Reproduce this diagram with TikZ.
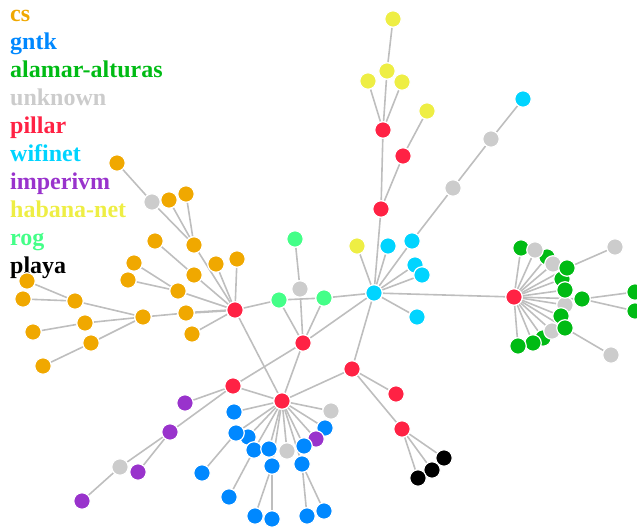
\documentclass[tikz,border=0pt]{standalone}
\usepackage{fontspec}
\setmainfont{Liberation Serif}
\usetikzlibrary{backgrounds}
\definecolor{cscol}{RGB}{240,168,0}
\definecolor{gntkcol}{RGB}{0,136,255}
\definecolor{alacol}{RGB}{0,187,20}
\definecolor{unkcol}{RGB}{204,204,204}
\definecolor{pilcol}{RGB}{255,34,68}
\definecolor{wificol}{RGB}{0,212,255}
\definecolor{impcol}{RGB}{153,51,204}
\definecolor{habcol}{RGB}{238,238,68}
\definecolor{rogcol}{RGB}{68,255,136}
\definecolor{playcol}{RGB}{0,0,0}
\definecolor{edgecol}{RGB}{190,190,190}
\tikzset{
  nd/.style={circle,inner sep=0pt,minimum size=16.5pt,draw=white,line width=1.2pt},
  cs/.style={nd,fill=cscol},
  gn/.style={nd,fill=gntkcol},
  al/.style={nd,fill=alacol},
  un/.style={nd,fill=unkcol},
  pi/.style={nd,fill=pilcol},
  wi/.style={nd,fill=wificol},
  im/.style={nd,fill=impcol},
  ha/.style={nd,fill=habcol},
  ro/.style={nd,fill=rogcol},
  pl/.style={nd,fill=playcol},
  edge/.style={draw=edgecol,line width=1.6pt},
  leg/.style={anchor=base west,inner sep=0pt,font=\bfseries\fontsize{24}{28}\selectfont}
}
\begin{document}
\begin{tikzpicture}[x=1pt,y=-1pt]
\useasboundingbox (0,0) rectangle (637,529);
% legend
\node[leg,text=cscol] (l1) at (10,22) {cs};
\node[leg,text=gntkcol] (l2) at (10,50) {gntk};
\node[leg,text=alacol] (l3) at (10,78) {alamar-alturas};
\node[leg,text=unkcol] (l4) at (10,106) {unknown};
\node[leg,text=pilcol] (l5) at (10,134) {pillar};
\node[leg,text=wificol] (l6) at (10,162) {wifinet};
\node[leg,text=impcol] (l7) at (10,190) {imperivm};
\node[leg,text=habcol] (l8) at (10,218) {habana-net};
\node[leg,text=rogcol] (l9) at (10,246) {rog};
\node[leg,text=playcol] (l10) at (10,274) {playa};
% cs cluster
\node[cs] (o1) at (117,163) {};
\node[un] (g1) at (152,202) {};
\node[cs] (o2) at (169,200) {};
\node[cs] (o3) at (186,194) {};
\node[cs] (o4) at (194,245) {};
\node[cs] (o5) at (155,241) {};
\node[cs] (o6) at (134,263) {};
\node[cs] (o7) at (128,280) {};
\node[cs] (o8) at (194,275) {};
\node[cs] (o9) at (216,264) {};
\node[cs] (o10) at (237,259) {};
\node[cs] (o11) at (178,291) {};
\node[cs] (o12) at (27,281) {};
\node[cs] (o13) at (23,299) {};
\node[cs] (o14) at (75,301) {};
\node[cs] (o15) at (143,317) {};
\node[cs] (o16) at (186,313) {};
\node[cs] (o17) at (85,323) {};
\node[cs] (o18) at (33,332) {};
\node[cs] (o19) at (91,343) {};
\node[cs] (o20) at (192,334) {};
\node[cs] (o21) at (43,366) {};
% pillars
\node[pi] (rA) at (235,310) {};
\node[pi] (rB) at (303,343) {};
\node[pi] (rC) at (233,386) {};
\node[pi] (rD) at (282,401) {};
\node[pi] (rE) at (352,369) {};
\node[pi] (rF) at (396,394) {};
\node[pi] (rG) at (402,429) {};
\node[pi] (rH) at (383,130) {};
\node[pi] (rI) at (403,156) {};
\node[pi] (rJ) at (381,209) {};
\node[pi] (rK) at (514,297) {};
% rog
\node[ro] (q1) at (279,300) {};
\node[ro] (q2) at (324,298) {};
\node[ro] (q3) at (295,239) {};
\node[un] (g2) at (300,289) {};
% wifinet
\node[wi] (c0) at (374,293) {};
\node[wi] (c1) at (388,246) {};
\node[wi] (c2) at (412,241) {};
\node[wi] (c3) at (415,265) {};
\node[wi] (c4) at (422,275) {};
\node[wi] (c5) at (417,317) {};
\node[wi] (c6) at (523,99) {};
\node[un] (g3) at (491,139) {};
\node[un] (g4) at (453,188) {};
% habana
\node[ha] (y1) at (393,19) {};
\node[ha] (y2) at (387,71) {};
\node[ha] (y3) at (368,81) {};
\node[ha] (y4) at (402,82) {};
\node[ha] (y5) at (427,111) {};
\node[ha] (y6) at (357,246) {};
% imperivm
\node[im] (p1) at (185,403) {};
\node[im] (p2) at (170,432) {};
\node[im] (p3) at (138,472) {};
\node[im] (p4) at (82,501) {};
\node[un] (g5) at (120,467) {};
% gntk
\node[gn] (b1) at (234,412) {};
\node[gn] (b3) at (248,437) {};
\node[gn] (b2) at (236,433) {};
\node[gn] (b4) at (325,428) {};
\node[im] (p5) at (316,439) {};
\node[gn] (b5) at (254,450) {};
\node[gn] (b6) at (269,449) {};
\node[un] (g6) at (287,451) {};
\node[gn] (b7) at (304,446) {};
\node[gn] (b8) at (272,466) {};
\node[gn] (b9) at (302,464) {};
\node[gn] (b10) at (202,473) {};
\node[gn] (b11) at (229,497) {};
\node[gn] (b12) at (255,516) {};
\node[gn] (b13) at (272,519) {};
\node[gn] (b14) at (307,516) {};
\node[gn] (b15) at (324,511) {};
\node[un] (g7) at (331,411) {};
% playa
\node[pl] (k1) at (444,458) {};
\node[pl] (k2) at (432,470) {};
\node[pl] (k3) at (418,478) {};
% alamar-alturas
\node[al] (a1) at (521,248) {};
\node[al] (a3) at (547,257) {};
\node[un] (a2) at (535,250) {};
\node[un] (a4) at (553,264) {};
\node[al] (a6) at (562,279) {};
\node[al] (a5) at (567,268) {};
\node[un] (a8) at (565,305) {};
\node[al] (a7) at (565,290) {};
\node[al] (a9) at (582,299) {};
\node[al] (a10) at (561,316) {};
\node[al] (a13) at (543,338) {};
\node[un] (a11) at (552,331) {};
\node[al] (a12) at (565,328) {};
\node[al] (a14) at (533,343) {};
\node[al] (a15) at (518,346) {};
\node[un] (a16) at (615,247) {};
\node[al] (a17) at (635,292) {};
\node[al] (a18) at (635,311) {};
\node[un] (a19) at (611,355) {};
\begin{pgfonlayer}{background}
% cs edges
\draw[edge] (o1) -- (g1);
\draw[edge] (g1) -- (o4);
\draw[edge] (o2) -- (o4);
\draw[edge] (o3) -- (o4);
\draw[edge] (o4) -- (rA);
\draw[edge] (o5) -- (o8);
\draw[edge] (o8) -- (rA);
\draw[edge] (o9) -- (rA);
\draw[edge] (o10) -- (rA);
\draw[edge] (o6) -- (o11);
\draw[edge] (o7) -- (o11);
\draw[edge] (o11) -- (rA);
\draw[edge] (o12) -- (o14);
\draw[edge] (o13) -- (o14);
\draw[edge] (o14) -- (o15);
\draw[edge] (o18) -- (o17);
\draw[edge] (o17) -- (o15);
\draw[edge] (o21) -- (o19);
\draw[edge] (o19) -- (o15);
\draw[edge] (o15) -- (o16);
\draw[edge,line width=2.3pt] (o16) -- (rA);
\draw[edge] (o20) -- (rA);
% center
\draw[edge] (rA) -- (q1);
\draw[edge] (q1) -- (q2);
\draw[edge] (q2) -- (c0);
\draw[edge] (rA) -- (rD);
\draw[edge] (q1) -- (rB);
\draw[edge] (q3) -- (g2);
\draw[edge] (g2) -- (rB);
\draw[edge] (q2) -- (rB);
\draw[edge] (rB) -- (c0);
\draw[edge] (rB) -- (rC);
\draw[edge] (rB) -- (rD);
\draw[edge] (c0) -- (rE);
\draw[edge] (rE) -- (rD);
\draw[edge] (rC) -- (rD);
\draw[edge] (rE) -- (rF);
\draw[edge] (rE) -- (rG);
\draw[edge] (rG) -- (k1);
\draw[edge] (rG) -- (k2);
\draw[edge] (rG) -- (k3);
% imperivm
\draw[edge] (rC) -- (p1);
\draw[edge] (rC) -- (p2);
\draw[edge] (p2) -- (g5);
\draw[edge] (p2) -- (p3);
\draw[edge] (g5) -- (p4);
% gntk hub
\draw[edge] (rD) -- (g7);
\draw[edge] (rD) -- (b1);
\draw[edge] (rD) -- (b2);
\draw[edge] (rD) -- (b3);
\draw[edge] (rD) -- (b4);
\draw[edge] (rD) -- (p5);
\draw[edge] (rD) -- (b5);
\draw[edge] (rD) -- (b6);
\draw[edge] (rD) -- (g6);
\draw[edge] (rD) -- (b7);
\draw[edge] (rD) -- (b8);
\draw[edge] (rD) -- (b9);
\draw[edge] (b2) -- (b10);
\draw[edge] (b5) -- (b11);
\draw[edge] (b8) -- (b12);
\draw[edge] (b8) -- (b13);
\draw[edge] (b9) -- (b14);
\draw[edge] (b9) -- (b15);
% top
\draw[edge] (y1) -- (y2);
\draw[edge] (y2) -- (rH);
\draw[edge] (y3) -- (rH);
\draw[edge] (y4) -- (rH);
\draw[edge] (rH) -- (rJ);
\draw[edge] (y5) -- (rI);
\draw[edge] (rI) -- (rJ);
\draw[edge] (rJ) -- (c0);
\draw[edge] (c6) -- (g3);
\draw[edge] (g3) -- (g4);
\draw[edge] (g4) -- (c2);
\draw[edge] (c0) -- (y6);
\draw[edge] (c0) -- (c1);
\draw[edge] (c0) -- (c2);
\draw[edge] (c0) -- (c3);
\draw[edge] (c0) -- (c4);
\draw[edge] (c0) -- (c5);
\draw[edge] (c0) -- (rK);
% alamar
\foreach \n in {a1,a2,a3,a4,a5,a6,a7,a8,a9,a10,a11,a12,a13,a14,a15}
  \draw[edge] (rK) -- (\n);
\draw[edge] (a5) -- (a16);
\draw[edge] (a9) -- (a17);
\draw[edge] (a9) -- (a18);
\draw[edge] (a12) -- (a19);
\end{pgfonlayer}
\end{tikzpicture}
\end{document}
